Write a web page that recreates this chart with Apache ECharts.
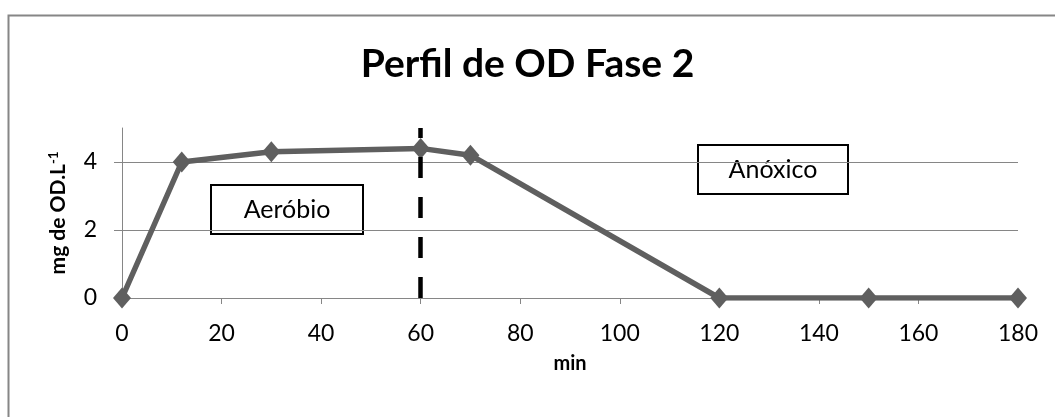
<!DOCTYPE html>
<html>
<head>
<meta charset="utf-8">
<script src="https://cdn.jsdelivr.net/npm/echarts@6/dist/echarts.min.js"></script>
<style>html,body{margin:0;padding:0;background:#fff}#c{width:1055px;height:417px}</style>
</head>
<body>
<div id="c"></div>
<script>
var titleText = 'Perfil de OD Fase 2';
var xName = 'min';
var yName = 'mg de OD.L{sup|-1}';
var timeMin = [0, 12, 30, 60, 70, 120, 150, 180];
var odValues = [0, 4.0, 4.3, 4.4, 4.2, 0, 0, 0];
var phaseBoundary = 60;
var labelAerobic = 'Aeróbio';
var labelAnoxic = 'Anóxico';

var FONT = 'Lato, "Open Sans", sans-serif';
var chart = echarts.init(document.getElementById('c'), null, {renderer: 'canvas'});
var pts = timeMin.map(function (t, i) { return [t, odValues[i]]; });

chart.setOption({
  backgroundColor: '#fff',
  animation: false,
  title: {
    text: titleText, left: 'center', top: 40,
    textStyle: {fontFamily: FONT, fontSize: 39, fontWeight: 'bold', color: '#000'}
  },
  grid: {left: 122, right: 37, top: 128, bottom: 119, containLabel: false},
  xAxis: {
    type: 'value', min: 0, max: 180, interval: 20,
    name: xName, nameLocation: 'middle', nameGap: 56,
    nameTextStyle: {fontFamily: FONT, fontSize: 20, fontWeight: 'bold', color: '#000'},
    axisLine: {show: true, onZero: false, lineStyle: {color: '#868686', width: 1}},
    axisTick: {show: true, length: 6, lineStyle: {color: '#868686'}},
    axisLabel: {fontFamily: FONT, fontSize: 23, color: '#000', margin: 24},
    splitLine: {show: false}
  },
  yAxis: {
    type: 'value', min: 0, max: 5, interval: 2,
    name: yName, nameLocation: 'middle', nameGap: 52, nameRotate: 90,
    nameTextStyle: {fontFamily: FONT, fontSize: 21, fontWeight: 'bold', color: '#000',
      rich: {sup: {fontFamily: FONT, fontSize: 13, fontWeight: 'bold', color: '#000', verticalAlign: 'top', padding: [0,0,10,0]}}},
    axisLine: {show: true, lineStyle: {color: '#868686', width: 1}},
    axisTick: {show: true, length: 8, lineStyle: {color: '#868686'}},
    axisLabel: {fontFamily: FONT, fontSize: 23, color: '#000', margin: 25, showMaxLabel: false},
    splitLine: {show: true, showMaxLine: false, lineStyle: {color: '#868686', width: 1}}
  },
  series: [{
    type: 'line', data: pts,
    symbol: 'diamond', symbolSize: [18, 21],
    lineStyle: {color: '#5f5f5f', width: 5.5},
    itemStyle: {color: '#5f5f5f'},
    z: 3,
    markLine: {
      silent: true, symbol: 'none', animation: false,
      label: {show: false},
      lineStyle: {color: '#000', width: 4.5, type: [21, 19]},
      data: [{xAxis: phaseBoundary}],
      z: 4
    }
  }],
  graphic: [
    {type: 'rect', shape: {x: 8.5, y: 15.5, width: 1200, height: 600},
     style: {fill: null, stroke: '#868686', lineWidth: 2}, silent: true, z: -1},
    {type: 'group', left: 210, top: 184, z: 10, children: [
      {type: 'rect', shape: {x: 0, y: 0, width: 152, height: 49},
       style: {fill: '#fff', stroke: '#000', lineWidth: 2}},
      {type: 'text', x: 76, y: 25, style: {text: labelAerobic, fontFamily: FONT, fontSize: 25, fill: '#000', align: 'center', verticalAlign: 'middle'}}
    ]},
    {type: 'group', left: 697, top: 144, z: 10, children: [
      {type: 'rect', shape: {x: 0, y: 0, width: 150, height: 49},
       style: {fill: '#fff', stroke: '#000', lineWidth: 2}},
      {type: 'text', x: 75, y: 25, style: {text: labelAnoxic, fontFamily: FONT, fontSize: 25, fill: '#000', align: 'center', verticalAlign: 'middle'}}
    ]}
  ]
});
</script>
</body>
</html>
